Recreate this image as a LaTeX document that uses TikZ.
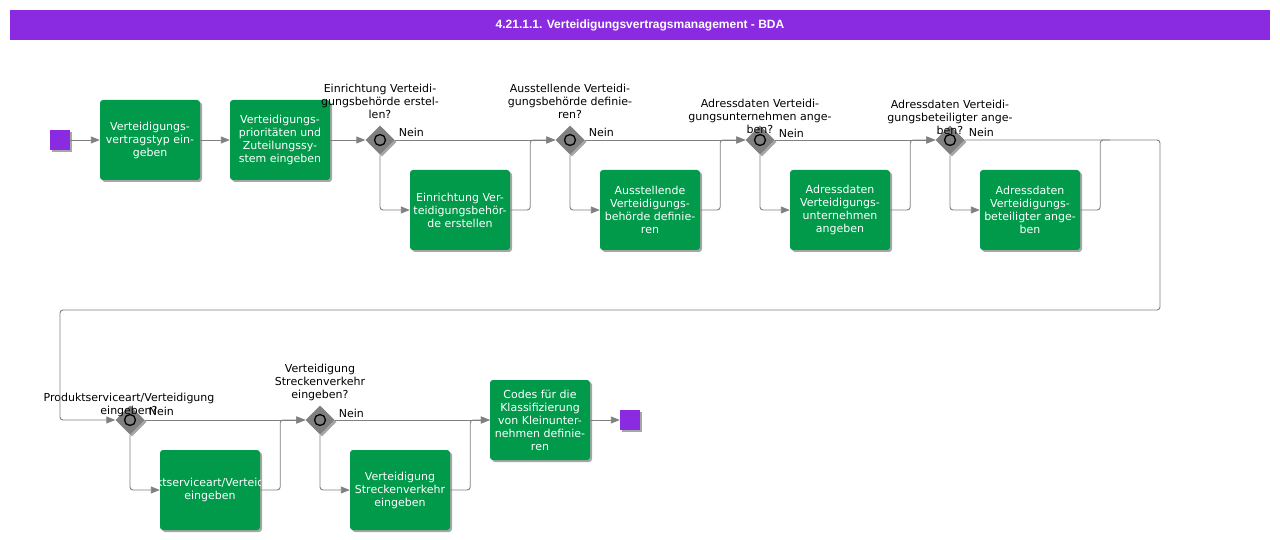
\documentclass[tikz,border=0pt]{standalone}
\usepackage{fontspec}
\setmainfont{DejaVu Sans}
\newfontfamily\titlefont{Liberation Sans}
\usetikzlibrary{shapes.geometric,shadows,arrows.meta}

\definecolor{bpmgreen}{HTML}{009A4A}
\definecolor{bpmpurple}{HTML}{8A2BE2}
\definecolor{bpmgray}{HTML}{808080}

\tikzset{
  bpmshadow/.style={drop shadow={shadow xshift=2pt, shadow yshift=-2pt, opacity=0.35, fill=black}},
  task/.style={rectangle, rounded corners=3pt, fill=bpmgreen, text=white, minimum width=100pt,
    minimum height=80pt, inner sep=0pt, align=center, font=\fontsize{11}{13}\selectfont, bpmshadow},
  tasktext/.style={text=white, align=center, inner sep=0pt, font=\fontsize{11}{13}\selectfont},
  event/.style={rectangle, fill=bpmpurple, minimum size=20pt, inner sep=0pt, bpmshadow},
  gateway/.style={diamond, fill=bpmgray, minimum size=29pt, inner sep=0pt, bpmshadow,
    path picture={\draw[line width=1.3pt] (path picture bounding box.center) circle (5.5pt);}},
  gwlabel/.style={align=center, inner sep=0pt, font=\fontsize{11}{13}\selectfont},
  nein/.style={anchor=west, inner sep=0pt, font=\fontsize{11}{13}\selectfont},
  flow/.style={draw=bpmgray, line width=0.9pt, rounded corners=3pt, -{Triangle[length=9pt,width=7pt]}},
  link/.style={draw=bpmgray, line width=0.9pt, rounded corners=3pt},
}

\begin{document}
\begin{tikzpicture}[x=1pt,y=-1pt]
                    \useasboundingbox (0,0) rectangle (1280,540);
                    
                    % Drawing title bar
                    \node [fill=bpmpurple, minimum width=1260pt, minimum height=30pt, inner sep=0pt,
                      text=white, font=\titlefont\bfseries\fontsize{12}{14}\selectfont] (title) at (640,25)
                      {4.21.1.1. Verteidigungsvertragsmanagement - BDA};
                    
                    % Drawing first row
                    \node [event] (start) at (60,140) {};
                    \node [task] (t1) at (150,140) {Verteidigungs-\\vertragstyp ein-\\geben};
                    \node [task] (t2) at (280,140) {Verteidigungs-\\prioritäten und\\Zuteilungssy-\\stem eingeben};
                    \node [gateway] (gw1) at (380,140) {};
                    \node [task] (t3) at (460,210) {Einrichtung Ver-\\teidigungsbehör-\\de erstellen};
                    \node [gateway] (gw2) at (570,140) {};
                    \node [task] (t4) at (650,210) {Ausstellende\\Verteidigungs-\\behörde definie-\\ren};
                    \node [gateway] (gw3) at (760,140) {};
                    \node [task] (t5) at (840,210) {Adressdaten\\Verteidigungs-\\unternehmen\\angeben};
                    \node [gateway] (gw4) at (950,140) {};
                    \node [task] (t6) at (1030,210) {Adressdaten\\Verteidigungs-\\beteiligter ange-\\ben};
                    
                    % Drawing second row
                    \node [gateway] (gw5) at (130,420) {};
                    \node [task] (t7) at (210,490) {};
                    \begin{scope}
                      \clip [rounded corners=3pt] (t7.south west) rectangle (t7.north east);
                      \node [tasktext] (t7text) at (t7.center) {Produktserviceart/Verteidigung\\eingeben};
                    \end{scope}
                    \node [gateway] (gw6) at (320,420) {};
                    \node [task] (t8) at (400,490) {Verteidigung\\Streckenverkehr\\eingeben};
                    \node [task] (t9) at (540,420) {Codes für die\\Klassifizierung\\von Kleinunter-\\nehmen definie-\\ren};
                    \node [event] (end) at (630,420) {};
                    
                    % Marking gateway questions
                    \node [gwlabel] (q1) at (380,101) {Einrichtung Verteidi-\\gungsbehörde erstel-\\len?};
                    \node [gwlabel] (q2) at (570,101) {Ausstellende Verteidi-\\gungsbehörde definie-\\ren?};
                    \node [gwlabel] (q3) at (760,116) {Adressdaten Verteidi-\\gungsunternehmen ange-\\ben?};
                    \node [gwlabel] (q4) at (950,117) {Adressdaten Verteidi-\\gungsbeteiligter ange-\\ben?};
                    \node [gwlabel] (q5) at (129,405) {Produktserviceart/Verteidigung\\eingeben?};
                    \node [gwlabel] (q6) at (320,382) {Verteidigung\\Streckenverkehr\\eingeben?};
                    
                    % Marking Nein branches
                    \node [nein] (n1) at ([xshift=4pt,yshift=8pt]gw1.east) {Nein};
                    \node [nein] (n2) at ([xshift=4pt,yshift=8pt]gw2.east) {Nein};
                    \node [nein] (n3) at ([xshift=4pt,yshift=7pt]gw3.east) {Nein};
                    \node [nein] (n4) at ([xshift=4pt,yshift=8pt]gw4.east) {Nein};
                    \node [nein] (n5) at ([xshift=4pt,yshift=9pt]gw5.east) {Nein};
                    \node [nein] (n6) at ([xshift=4pt,yshift=7pt]gw6.east) {Nein};
                    
                    % Drawing flows of first row
                    \draw [flow] (start.east) -- (t1.west);
                    \draw [flow] (t1.east) -- (t2.west);
                    \draw [flow] (t2.east) -- (gw1.west);
                    \draw [flow] (gw1.south) |- (t3.west);
                    \draw [flow] (gw1.east) -- (gw2.west);
                    \draw [flow] (t3.east) -- ++(20,0) |- (gw2.west);
                    \draw [flow] (gw2.south) |- (t4.west);
                    \draw [flow] (gw2.east) -- (gw3.west);
                    \draw [flow] (t4.east) -- ++(20,0) |- (gw3.west);
                    \draw [flow] (gw3.south) |- (t5.west);
                    \draw [flow] (gw3.east) -- (gw4.west);
                    \draw [flow] (t5.east) -- ++(20,0) |- (gw4.west);
                    \draw [flow] (gw4.south) |- (t6.west);
                    
                    % Drawing wrap to second row
                    \coordinate (wrapR) at (1160,310);
                    \coordinate (wrapL) at (60,310);
                    \draw [flow] (gw4.east) -| (wrapR) -- (wrapL) |- (gw5.west);
                    \draw [link] (t6.east) -- ++(20,0) -- ++(0,-70) -- ++(10,0);
                    
                    % Drawing flows of second row
                    \draw [flow] (gw5.south) |- (t7.west);
                    \draw [flow] (gw5.east) -- (gw6.west);
                    \draw [flow] (t7.east) -- ++(20,0) |- (gw6.west);
                    \draw [flow] (gw6.south) |- (t8.west);
                    \draw [flow] (gw6.east) -- (t9.west);
                    \draw [flow] (t8.east) -- ++(20,0) |- (t9.west);
                    \draw [flow] (t9.east) -- (end.west);
                \end{tikzpicture}
\end{document}
